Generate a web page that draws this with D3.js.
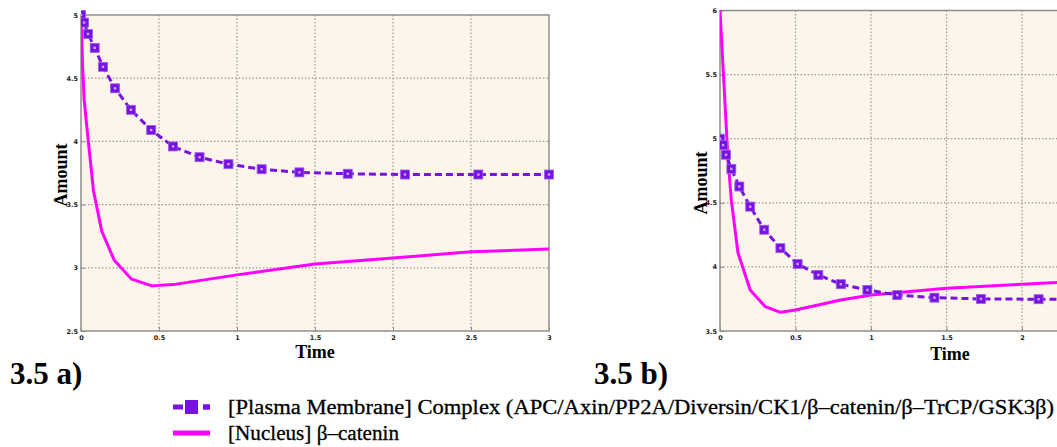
<!DOCTYPE html>
<html>
<head>
<meta charset="utf-8">
<script src="https://cdn.jsdelivr.net/npm/d3@7"></script>
<style>
  body { margin: 0; background: #fff; }
  svg { display: block; }
</style>
</head>
<body>
<svg id="chart" width="1057" height="447"></svg>
<script>
// panel a) values
const timeA_complex = [0, 0.02, 0.045, 0.088, 0.141, 0.218, 0.32, 0.45, 0.59, 0.76, 0.945, 1.158, 1.4, 1.71, 2.077, 2.547, 3]
const valA_complex = [5.0, 4.94, 4.85, 4.74, 4.59, 4.42, 4.25, 4.09, 3.96, 3.875, 3.82, 3.78, 3.755, 3.744, 3.738, 3.738, 3.738]
const timeA_nucleus = [0, 0.01, 0.02, 0.047, 0.08, 0.133, 0.213, 0.325, 0.455, 0.59, 1.0, 1.5, 2.0, 2.5, 3]
const valA_nucleus = [5.0, 4.6, 4.33, 4.0, 3.61, 3.29, 3.06, 2.91, 2.857, 2.867, 2.944, 3.03, 3.077, 3.127, 3.148]

// panel b) values
const timeB_complex = [0, 0.02, 0.04, 0.075, 0.128, 0.2, 0.293, 0.4, 0.514, 0.651, 0.8, 0.976, 1.174, 1.42, 1.728, 2.11, 2.58, 3]
const valB_complex = [5.0, 4.95, 4.875, 4.765, 4.627, 4.47, 4.29, 4.146, 4.023, 3.9375, 3.865, 3.82, 3.78, 3.76, 3.75, 3.748, 3.745, 3.745]
const timeB_nucleus = [0, 0.053, 0.075, 0.119, 0.2, 0.3, 0.4, 0.5, 0.8, 1.0, 1.5, 2.0, 2.23, 2.6, 3]
const valB_nucleus = [6.0, 4.84, 4.52, 4.11, 3.82, 3.69, 3.646, 3.664, 3.742, 3.78, 3.833, 3.865, 3.878, 3.89, 3.9]

const xTicks = [0, 0.5, 1, 1.5, 2, 2.5, 3]
const yTicksA = [2.5, 3, 3.5, 4, 4.5, 5]
const yTicksB = [3.5, 4, 4.5, 5, 5.5, 6]

const seriesNames = [
	"[Plasma Membrane] Complex (APC/Axin/PP2A/Diversin/CK1/\u03b2\u2013catenin/\u03b2\u2013TrCP/GSK3\u03b2)",
	"[Nucleus] \u03b2\u2013catenin"
]
const legendWidths = [826, 171]

const purple = "#7812e0"
const magenta = "#ff00ff"
const serif = "'Liberation Serif', 'Times New Roman', serif"
const W = 1057

const svg = d3.select("#chart")

function zip(ts, vs) {
	return ts.map((t, i) => ({ t: t, v: vs[i] }))
}

function drawPanel(o) {
	const x = d3.scaleLinear().domain([0, 3]).range([o.left, o.right])
	const y = d3.scaleLinear().domain(o.yDomain).range([o.bottom, o.top])
	const g = svg.append("g")

	const clipId = "clip" + o.id
	g.append("clipPath").attr("id", clipId)
		.append("rect")
		.attr("x", o.left).attr("y", o.top - 6)
		.attr("width", o.right - o.left + 6).attr("height", o.bottom - o.top + 12)

	g.append("rect")
		.attr("x", o.left).attr("y", o.top)
		.attr("width", o.right - o.left).attr("height", o.bottom - o.top)
		.attr("fill", "#fdf5ea")

	// dotted grid
	g.selectAll(".vgrid").data(xTicks.slice(1, -1)).enter().append("line")
		.attr("x1", d => x(d)).attr("x2", d => x(d))
		.attr("y1", o.top).attr("y2", o.bottom)
		.attr("stroke", "#9a9a9a").attr("stroke-width", 1.2)
		.attr("stroke-dasharray", "1.5,2")
	g.selectAll(".hgrid").data(o.yTicks.slice(1, -1)).enter().append("line")
		.attr("x1", o.left).attr("x2", o.right)
		.attr("y1", d => y(d)).attr("y2", d => y(d))
		.attr("stroke", "#9a9a9a").attr("stroke-width", 1.2)
		.attr("stroke-dasharray", "1.5,2")

	// frame
	g.append("rect")
		.attr("x", o.left).attr("y", o.top)
		.attr("width", o.right - o.left).attr("height", o.bottom - o.top)
		.attr("fill", "none").attr("stroke", "#8e8e8e").attr("stroke-width", 1.5)

	const fmt = d3.format("~g")
	const visX = xTicks.filter(d => x(d) < W - 6)
	const xAxis = d3.axisBottom(x).tickValues(visX).tickFormat(fmt).tickSize(-4).tickPadding(4)
	const yAxis = d3.axisLeft(y).tickValues(o.yTicks).tickFormat(fmt).tickSize(-4).tickPadding(3)

	const ax = g.append("g").attr("transform", `translate(0,${o.bottom})`).call(xAxis)
	const ay = g.append("g").attr("transform", `translate(${o.left},0)`).call(yAxis)
	for (const a of [ax, ay]) {
		a.select(".domain").remove()
		a.selectAll(".tick line").attr("stroke", "#8e8e8e")
		a.selectAll("text")
			.attr("font-family", "'DejaVu Sans', sans-serif")
			.attr("font-size", 6.5)
			.attr("font-weight", "bold")
			.attr("fill", "#222")
	}

	const plot = g.append("g").attr("clip-path", `url(#${clipId})`)
	const line = d3.line().x(d => x(d.t)).y(d => y(d.v))

	plot.append("path")
		.datum(zip(o.nucT, o.nucV))
		.attr("d", line)
		.attr("fill", "none").attr("stroke", magenta)
		.attr("stroke-width", 3).attr("stroke-linejoin", "round")

	const cx = zip(o.cxT, o.cxV)
	plot.append("path")
		.datum(cx)
		.attr("d", line)
		.attr("fill", "none").attr("stroke", purple)
		.attr("stroke-width", 3).attr("stroke-dasharray", "7,4")

	const mk = plot.selectAll(".mk").data(cx).enter().append("g")
		.attr("transform", d => `translate(${x(d.t)},${y(d.v)})`)
	mk.append("rect")
		.attr("x", -4.5).attr("y", -4.5).attr("width", 9).attr("height", 9)
		.attr("fill", purple).attr("stroke", "#9b5cf0").attr("stroke-width", 0.8)
	mk.append("rect")
		.attr("x", -1.2).attr("y", -1.2).attr("width", 2.4).attr("height", 2.4)
		.attr("fill", "#c9a6f6")

	svg.append("text")
		.attr("transform", `translate(${o.yLabelX},${o.yLabelY}) rotate(-90)`)
		.attr("text-anchor", "middle")
		.attr("font-family", serif).attr("font-weight", "bold").attr("font-size", 18)
		.text("Amount")
	svg.append("text")
		.attr("x", o.xLabelX).attr("y", o.xLabelY)
		.attr("text-anchor", "middle")
		.attr("font-family", serif).attr("font-weight", "bold").attr("font-size", 18)
		.text("Time")
	svg.append("text")
		.attr("x", o.capX).attr("y", 384)
		.attr("font-family", serif).attr("font-weight", "bold").attr("font-size", 31)
		.text(o.caption)
}

drawPanel({
	id: "a", left: 81, right: 549, top: 15, bottom: 331, yDomain: [2.5, 5], yTicks: yTicksA,
	cxT: timeA_complex, cxV: valA_complex, nucT: timeA_nucleus, nucV: valA_nucleus,
	yLabelX: 67, yLabelY: 175, xLabelX: 315, xLabelY: 358, capX: 10, caption: "3.5 a)"
})
drawPanel({
	id: "b", left: 720, right: 1173, top: 10.5, bottom: 331, yDomain: [3.5, 6], yTicks: yTicksB,
	cxT: timeB_complex, cxV: valB_complex, nucT: timeB_nucleus, nucV: valB_nucleus,
	yLabelX: 707, yLabelY: 183, xLabelX: 950, xLabelY: 360, capX: 594, caption: "3.5 b)"
})

// legend
const legend = svg.append("g")
const legY = [407, 433]
legend.append("line")
	.attr("x1", 173).attr("x2", 210).attr("y1", legY[0]).attr("y2", legY[0])
	.attr("stroke", purple).attr("stroke-width", 5).attr("stroke-dasharray", "10,20")
legend.append("line")
	.attr("x1", 203).attr("x2", 210).attr("y1", legY[0]).attr("y2", legY[0])
	.attr("stroke", purple).attr("stroke-width", 5)
legend.append("rect")
	.attr("x", 185).attr("y", legY[0] - 7).attr("width", 13).attr("height", 14)
	.attr("fill", purple)
legend.append("line")
	.attr("x1", 173).attr("x2", 210).attr("y1", legY[1]).attr("y2", legY[1])
	.attr("stroke", magenta).attr("stroke-width", 5)

legend.selectAll(".lt").data(seriesNames).enter().append("text")
	.attr("x", 228).attr("y", (d, i) => legY[i] + 7)
	.attr("font-family", serif).attr("font-size", 20.5)
	.attr("textLength", (d, i) => legendWidths[i])
	.attr("lengthAdjust", "spacingAndGlyphs")
	.attr("fill", "#000").attr("stroke", "#000").attr("stroke-width", 0.3)
	.text(d => d)
</script>
</body>
</html>
